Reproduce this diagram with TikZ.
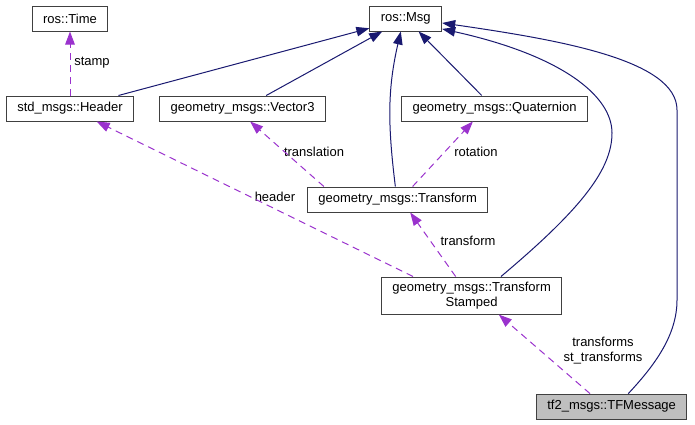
\documentclass[tikz,border=0pt]{standalone}
\usepackage{fontspec}
\setmainfont{Liberation Sans}
\usepackage{tikz}
\usetikzlibrary{arrows.meta,positioning}
\definecolor{navy}{RGB}{25, 25, 112}
\definecolor{orchid}{RGB}{154, 50, 205}
\newcommand{\clsfont}{\fontsize{13}{15}\selectfont}
\tikzstyle{cls} = [rectangle, draw=black!75, line width=1pt, fill=white, text=black, align=center, font=\clsfont, minimum height=25pt, inner xsep=11pt, inner ysep=5pt]
\tikzstyle{cls2} = [cls, fill=black!25]
\tikzstyle{iedge} = [draw, navy, line width=1pt, >={Triangle[length=13pt,width=9.5pt]}, ->]
\tikzstyle{uedge} = [draw, orchid, line width=1pt, dash pattern=on 7pt off 5pt, >={Triangle[length=13pt,width=9.5pt]}, ->]
\tikzstyle{lbl} = [text=black, font=\clsfont, inner sep=0pt, align=center]

\begin{document}
\begin{tikzpicture}[x=1pt, y=1pt]
\useasboundingbox (0,0) rectangle (695,-424);

% classes =============================

% top row
\node[cls] (time) at (70,-18.5) {ros::Time};
\node[cls, right=261pt of time] (msg) {ros::Msg};

% second row
\node[cls, below=64pt of time] (header) {std\_msgs::Header};
\node[cls, right=25pt of header] (vector3) {geometry\_msgs::Vector3};
\node[cls, right=75pt of vector3] (quat) {geometry\_msgs::Quaternion};

% transform and stamped
\node[cls, below=65pt of vector3, xshift=155pt] (transform) {geometry\_msgs::Transform};
\node[cls, below=64pt of transform, xshift=74pt] (tstamped) {geometry\_msgs::Transform\\Stamped};

% message
\node[cls2, below=79pt of tstamped, xshift=140pt] (tfmsg) {tf2\_msgs::TFMessage};

% labels
\node[lbl] (lstamp) at (92,-63) {stamp};
\node[lbl] (ltrans) at (314,-152) {translation};
\node[lbl] (lrot) at (476,-152) {rotation};
\node[lbl] (lheader) at (275,-197) {header};
\node[lbl] (ltf) at (468,-241) {transform};
\node[lbl] (ltfs) at (603,-351) {transforms\\st\_transforms};

%edges
\path[iedge] (header) -- (msg);
\path[iedge] (vector3) -- (msg);
\path[iedge] (quat) -- (msg);
\path[iedge] (transform.100) to[out=97, in=-103] (msg.-111);
\path[iedge] (tstamped.33) .. controls (580,-210) and (612,-170) .. (612,-133)
  .. controls (612,-95) and (560,-55) .. (msg.-16);
\path[iedge] (tfmsg.38) .. controls (655,-365) and (677,-335) .. (677,-300)
  -- (677,-110) .. controls (677,-60) and (560,-40) .. (msg.-7);

\path[uedge] (header) -- (time);
\path[uedge] (transform.170) -- (vector3.-60);
\path[uedge] (transform.41) -- (quat.-149);
\path[uedge] (tstamped.162) -- (header.-26);
\path[uedge] (tstamped.130) -- (transform.-46);
\path[uedge] (tfmsg.149) -- (tstamped.-35);

\end{tikzpicture}
\end{document}
